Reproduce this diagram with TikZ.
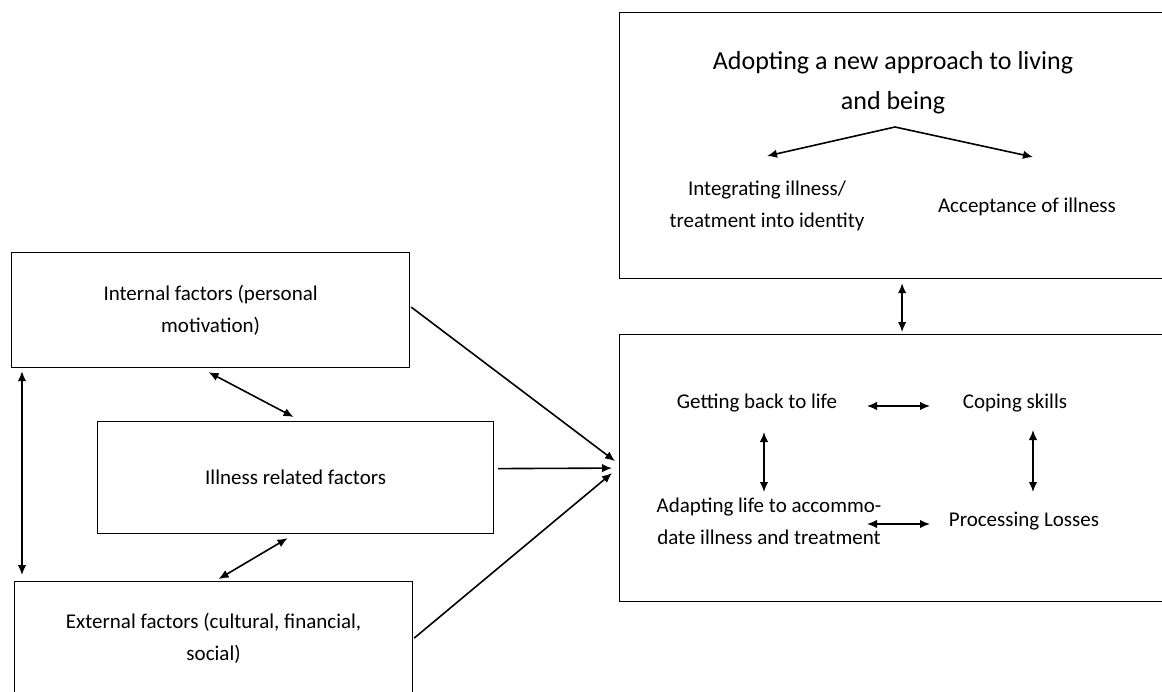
\documentclass[tikz,border=0pt]{standalone}
\usepackage{fontspec}
\setmainfont{Carlito}
\usetikzlibrary{arrows.meta}
\usetikzlibrary{calc}

\begin{document}
\begin{tikzpicture}[x=1pt, y=-1pt, >={Latex[length=10pt,width=8.5pt]},
  factor/.style={draw, line width=1.2pt, anchor=north west, align=center, font=\fontsize{21}{32}\selectfont},
  theme/.style={draw, line width=1.2pt, anchor=north west},
  sub/.style={align=center, inner sep=0pt, font=\fontsize{21}{32}\selectfont},
  link/.style={line width=1.6pt}]
\useasboundingbox (0,0) rectangle (1162,691);
\clip (0,0) rectangle (1162,691);
\fill[white] (0,0) rectangle (1162,691);

% factors on the left
\node[factor, minimum width=398, minimum height=115] (internal) at (11,252) {Internal factors (personal\\motivation)};
\node[factor, minimum width=396, minimum height=112] (illness) at (97,421) {Illness related factors};
\node[factor, minimum width=398, minimum height=113] (external) at (14,581) {External factors (cultural, financial,\\social)};

% the two boxes on the right
\node[theme, minimum width=558, minimum height=266] (outcome) at (619,12) {};
\node[theme, minimum width=558, minimum height=267] (process) at (619,334) {};

\node[sub, font=\fontsize{26}{40}\selectfont] (adopt) at (893,83) {Adopting a new approach to living\\and being};
\node[sub] (integ) at (767,206) {Integrating illness/\\treatment into identity};
\node[sub] (accept) at (1027,207) {Acceptance of illness};

\node[sub] (getting) at (757,403) {Getting back to life};
\node[sub] (coping) at (1015,403) {Coping skills};
\node[sub] (adapting) at (769,521) {Adapting life to accommo-\\date illness and treatment};
\node[sub] (losses) at (1024,521) {Processing Losses};

% links
\draw[link, ->] ($(adopt.center)+(2,44)$) -- ($(integ.center)+(0,-50)$);
\draw[link, ->] ($(adopt.center)+(2,44)$) -- ($(accept.center)+(6,-50)$);
\draw[link, <->] ($(outcome.south)+(3.5,4)$) -- ($(process.north)+(3.5,-2)$);

\draw[link, <->] ($(getting.center)+(110,3)$) -- ($(coping.center)+(-85,3)$);
\draw[link, <->] ($(getting.center)+(7,29)$) -- ($(adapting.center)+(-5,-29)$);
\draw[link, <->] ($(coping.center)+(18,27)$) -- ($(losses.center)+(9,-29)$);
\draw[link, <->] ($(adapting.center)+(98,3)$) -- ($(losses.center)+(-94,3)$);

\draw[link, <->] ($(internal.south west)+(11,3)$) -- ($(external.north west)+(8,-6)$);
\draw[link, <->] ($(internal.south)+(-2,4)$) -- ($(illness.north)+(-2,-4)$);
\draw[link, <->] ($(illness.south)+(-8,4)$) -- ($(external.north)+(5,-2)$);

\draw[link, ->] ($(internal.east)+(1,-3)$) -- ($(process.west)+(-4,-7)$);
\draw[link, ->] ($(illness.east)+(4,-9)$) -- ($(process.west)+(-7,0)$);
\draw[link, ->] ($(external.east)+(1,0)$) -- ($(process.west)+(-7,5)$);
\end{tikzpicture}
\end{document}
